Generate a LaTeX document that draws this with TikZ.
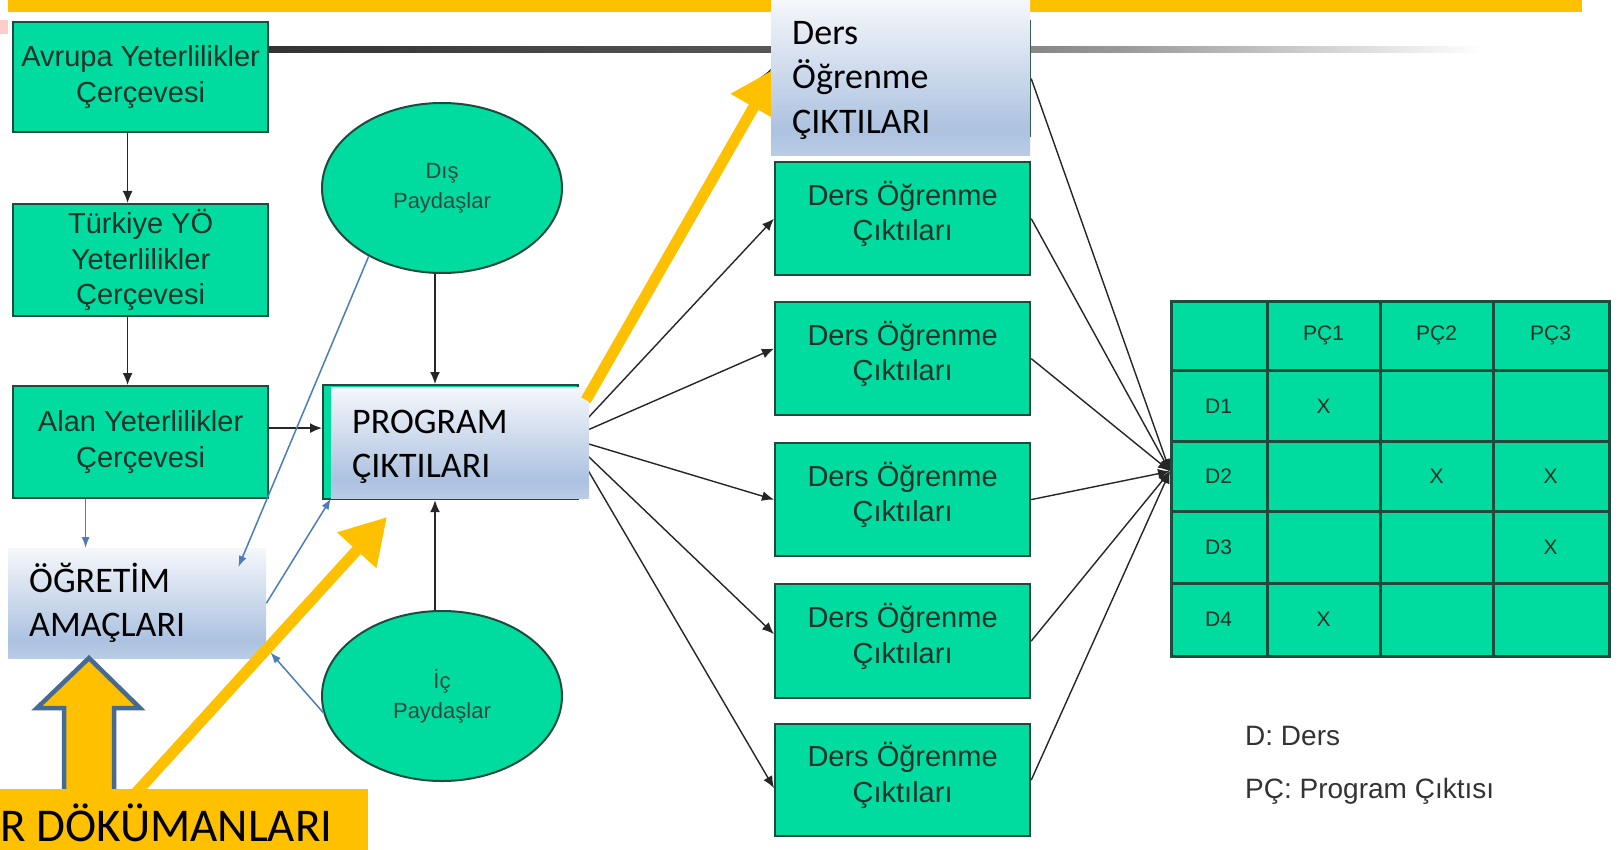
\documentclass[tikz,border=0pt]{standalone}
\usepackage{fontspec}
\setmainfont{Liberation Sans}
\newfontfamily\calf{Carlito}
\usetikzlibrary{arrows.meta,shapes.geometric}
\definecolor{grn}{RGB}{0,220,160}
\definecolor{gbord}{RGB}{30,75,60}
\definecolor{gtxt}{RGB}{28,50,42}
\definecolor{ylw}{RGB}{255,192,0}
\definecolor{blu}{RGB}{74,125,186}
\definecolor{arrb}{RGB}{69,106,147}
\definecolor{gtop}{RGB}{245,247,251}
\definecolor{gbot}{RGB}{172,194,224}
\definecolor{gbottwo}{RGB}{186,204,230}
\pgfdeclareverticalshading{gradbox}{100bp}{color(0bp)=(gbottwo); color(25bp)=(gbottwo); color(33bp)=(gbot); color(75bp)=(gtop); color(100bp)=(gtop)}
\pgfdeclarehorizontalshading{grayline}{100bp}{color(0bp)=(black!80); color(25bp)=(black!80); color(46bp)=(black!65); color(58bp)=(black!40); color(72bp)=(white); color(100bp)=(white)}
\begin{document}
\begin{tikzpicture}[x=1pt,y=-1pt,
  gbox/.style={draw=gbord, line width=2.2pt, fill=grn, inner sep=0pt, anchor=north west},
  ltext/.style={font=\fontsize{29}{35.5}\selectfont, text=gtxt, align=center},
  ell/.style={ellipse, draw=gbord, line width=2pt, fill=grn, minimum width=240pt, minimum height=170pt, inner sep=0pt, font=\fontsize{22}{30}\selectfont, text=gtxt!90, align=center},
  grad/.style={shade, shading=gradbox, draw=none, inner sep=0pt, anchor=north west},
  gtext/.style={font=\calf\fontsize{36}{44.5}\selectfont, text=black, align=left, anchor=west, inner sep=0pt},
  barr/.style={draw=black!85, line width=1.4pt, -{Latex[length=12pt,width=10pt]}},
  blarr/.style={draw=blu, line width=1.5pt, -{Latex[length=11pt,width=8pt]}},
  yarr/.style={draw=ylw, line width=11pt, -{Triangle[length=45pt,width=50pt]}},
  mtext/.style={font=\fontsize{21}{25}\selectfont, text=gtxt},
  legtext/.style={font=\fontsize{28}{34}\selectfont, text=black!80, anchor=base west, inner sep=0pt},
  dtext/.style={font=\fontsize{29}{35.5}\selectfont, text=gtxt, align=center, yshift=4.5pt}
]
\useasboundingbox (0,0) rectangle (1621,850);
\fill[white] (0,0) rectangle (1621,850);
\fill[red!20] (0,20) rectangle (8,34);
% top bar and grey rule
\fill[ylw] (8,0) rectangle (1582,12);
\shade[shading=grayline] (267,47) rectangle (1560,53);

% left column
\node[gbox, minimum width=255pt, minimum height=110pt, ltext] (avr) at (12,21) {Avrupa Yeterlilikler\\Çerçevesi};
\node[gbox, minimum width=255pt, minimum height=112pt, ltext] (tur) at (12,203) {Türkiye YÖ\\Yeterlilikler\\Çerçevesi};
\node[gbox, minimum width=255pt, minimum height=112pt, ltext] (alan) at (12,385) {Alan Yeterlilikler\\Çerçevesi};

% stakeholders
\node[ell] (dis) at (442,188) {Dış\\Paydaşlar};
\node[ell] (ic) at (442,696) {İç\\Paydaşlar};

% program outcome box (green under)
\node[gbox, minimum width=255pt, minimum height=114pt] (prog) at (322,384) {};

% course outcome boxes
\node[gbox, minimum width=255pt, minimum height=115pt] (d0) at (774,20) {};
\node[gbox, minimum width=255pt, minimum height=113pt, label={[dtext]center:{Ders Öğrenme\\Çıktıları}}] (d1) at (774,161) {};
\node[gbox, minimum width=255pt, minimum height=113pt, label={[dtext]center:{Ders Öğrenme\\Çıktıları}}] (d2) at (774,301) {};
\node[gbox, minimum width=255pt, minimum height=113pt, label={[dtext]center:{Ders Öğrenme\\Çıktıları}}] (d3) at (774,442) {};
\node[gbox, minimum width=255pt, minimum height=114pt, label={[dtext]center:{Ders Öğrenme\\Çıktıları}}] (d4) at (774,583) {};
\node[gbox, minimum width=255pt, minimum height=112pt, label={[dtext]center:{Ders Öğrenme\\Çıktıları}}] (d5) at (774,723) {};

% matrix
\node[draw=gbord, fill=grn, line width=2.6pt, minimum width=438pt, minimum height=355pt, anchor=north west, inner sep=0pt] (mat) at (1170,300) {};
\begin{scope}[gbord, line width=3pt]
\draw (1267,300) -- (1267,655);
\draw (1380,300) -- (1380,655);
\draw (1493,300) -- (1493,655);
\draw (1170,370) -- (1608,370);
\draw (1170,441) -- (1608,441);
\draw (1170,511) -- (1608,511);
\draw (1170,583) -- (1608,583);
\end{scope}
\node[mtext] (h1) at (1323.5,335) {PÇ1};
\node[mtext] (h2) at (1436.5,335) {PÇ2};
\node[mtext] (h3) at (1550.5,335) {PÇ3};
\node[mtext] (r1) at (1218.5,406) {D1};
\node[mtext] (r2) at (1218.5,476) {D2};
\node[mtext] (r3) at (1218.5,547) {D3};
\node[mtext] (r4) at (1218.5,619) {D4};
\node[mtext] (x11) at (1323.5,406) {X};
\node[mtext] (x22) at (1436.5,476) {X};
\node[mtext] (x23) at (1550.5,476) {X};
\node[mtext] (x33) at (1550.5,547) {X};
\node[mtext] (x41) at (1323.5,619) {X};

% legend
\node[legtext] (leg1) at (1245,745) {D: Ders};
\node[legtext] (leg2) at (1245,798) {PÇ: Program Çıktısı};

% black arrows
\draw[barr] ([xshift=-13pt]avr.south) -- ([xshift=-13pt]avr.south |- tur.north);
\draw[barr] ([xshift=-13pt]tur.south) -- ([xshift=-13pt]tur.south |- alan.north);
\draw[barr] ([yshift=14pt]alan.east) -- ([yshift=14pt]alan.east -| prog.west);
\draw[barr] ([xshift=-7pt]dis.south) -- ([xshift=-7pt]dis.south |- prog.north);
\draw[barr] ([xshift=-7pt]ic.north) -- ([xshift=-7pt]ic.north |- prog.south);
\coordinate (fan) at ([xshift=-10pt,yshift=4pt]prog.east);
\draw[barr] (fan) -- ([xshift=-3pt,yshift=10pt]d0.west);
\draw[barr] (fan) -- (d1.west);
\draw[barr] (fan) -- ([yshift=10pt]d2.west);
\draw[barr] (fan) -- (d3.west);
\draw[barr] (fan) -- ([yshift=7pt]d4.west);
\draw[barr] (fan) -- ([yshift=-8pt]d5.west);
\coordinate (blob) at ([yshift=7.5pt]mat.west);
\foreach \d in {d0,d1,d2,d3,d4,d5} \draw[barr] (\d.east) -- (blob);

% gradient boxes
\node[grad, minimum width=258pt, minimum height=111pt] (progG) at (331,387) {};
\node[gtext] (progT) at (352,447) {PROGRAM\\ÇIKTILARI};
\node[grad, minimum width=258pt, minimum height=110pt] (ogr) at (8,548) {};
\node[gtext] (ogrT) at (29,603) {ÖĞRETİM\\AMAÇLARI};

% big outlined up arrow
\draw[fill=ylw, draw=arrb, line width=4.5pt, line join=miter] (89,658) -- (140,708) -- (114,708) -- (114,800) -- (64,800) -- (64,708) -- (37,708) -- cycle;

% yellow arrows
\coordinate (ya) at (134,795);
\coordinate (yb) at (387,517);
\draw[yarr] (ya) -- (yb);
\coordinate (yc) at (586,400);
\coordinate (yd) at (776,68);
\draw[yarr] (yc) -- (yd);

% blue arrows
\draw[blarr] ([xshift=-55pt]alan.south) -- ([xshift=-55pt]alan.south |- ogr.north);
\draw[blarr] (dis.223) -- ([xshift=-28pt,yshift=-19pt]ogr.north east);
\draw[blarr] (ogr.east) -- (progG.south west);
\draw[blarr] (ic.188) -- ([xshift=4pt,yshift=6pt]ogr.south east);

% bottom yellow box
\node[fill=ylw, minimum width=368pt, minimum height=61pt, anchor=north west, inner sep=0pt] (dokbox) at (0,789) {};
\node[font=\calf\fontsize{47}{56}\selectfont, anchor=base west, inner sep=0pt] (dok) at (0,841) {R DÖKÜMANLARI};

% top course-outcome gradient box
\node[grad, minimum width=259pt, minimum height=155pt] (dtop) at (771,0) {};
\node[gtext] (dtopT) at (792,80) {Ders\\Öğrenme\\ÇIKTILARI};
\end{tikzpicture}
\end{document}
